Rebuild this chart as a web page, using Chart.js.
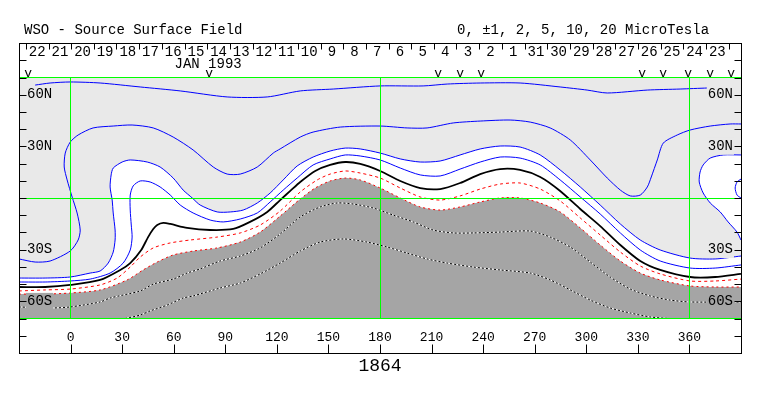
<!DOCTYPE html>
<html><head><meta charset="utf-8">
<script src="https://cdn.jsdelivr.net/npm/chart.js@4.4.1/dist/chart.umd.min.js"></script>
<style>html,body{margin:0;padding:0;background:#fff;overflow:hidden}canvas{display:block}</style>
</head><body>
<canvas id="c" width="763" height="396"></canvas>
<script>
// ---- axis / label data ----
const lonTicks = [0,30,60,90,120,150,180,210,240,270,300,330,360];
const greenLon = [0,180,360];
const latTickVals = [-70,-60,-30,0,30,60,70];
const latTickText = ['','60S','30S','','30N','60N',''];
const latGreen = [-70,0,70];
const latMinorTicks = [-80,-70,-60,-50,-40,-30,-20,-10,0,10,20,30,40,50,60,70,80];
const frameLat = [-90,90];
const dayText = ['22','21','20','19','18','17','16','15','14','13','12','11','10','9','8','7','6','5','4','3','2','1','31','30','29','28','27','26','25','24','23'];
const dayLon = [-19.4,-6.2,7.0,20.1,33.3,46.5,59.7,72.9,86.1,99.3,112.5,125.6,138.8,152.0,165.2,178.4,191.6,204.8,218.0,231.1,244.3,257.5,270.7,283.9,297.1,310.3,323.5,336.6,349.8,363.0,376.2];
const dayBoundLon = [-26.0,-12.8,0.4,13.5,26.7,39.9,53.1,66.3,79.5,92.7,105.9,119.0,132.2,145.4,158.6,171.8,185.0,198.2,211.4,224.5,237.7,250.9,264.1,277.3,290.5,303.7,316.9,330.0,343.2,356.4,369.6,382.8];
const monthText = 'JAN 1993';
const monthLon = 80;
const obsLon = [-24.7,80.6,213.8,226.6,238.9,332.5,344.7,359.3,372.1,384.3];
const titleText = 'WSO - Source Surface Field';
const levelsText = '0, \u00b11, 2, 5, 10, 20 MicroTesla';
const rotationText = '1864';

// ---- contour data (longitude, latitude) ----
const pos10Lon = [-20.6,-11.9,-0.2,17.2,40.5,63.8,91.1,114.4,133.6,152.8,180.1,205.1,219.1,238.3,261.5,284.8,300.5,312.2,335.5,354.6,370.3];
const pos10Lat = [65.6,66.8,67.4,66.8,64.5,62.2,58.7,58.7,62.2,63.3,65.1,65.1,66.2,66.8,66.8,64.5,62.7,61.0,62.7,63.3,63.9];

const pos5Lon = [-30,-20.6,-11.9,-0.2,4.4,5.6,3.8,0.9,-2.0,-3.7,-3.1,-0.2,4.4,13.1,24.8,35.8,48.1,59.7,71.3,83.0,91.1,98.7,108.6,117.9,121.9,133.6,141.1,156.9,180.1,195.8,207.4,222.6,238.3,255.7,267.4,279.0,290.7,302.3,312.2,319.8,325.6,331.4,335.5,337.8,341.3,344.8,352.9,360.4,372.1,383.7,390];
const pos5Lat = [-35.4,-37.2,-36.6,-30.8,-24.4,-18.6,-8.7,0.6,10.5,18.0,26.1,32.5,36.6,40.7,41.8,42.4,40.7,35.4,27.9,18.0,13.9,13.9,18.0,26.1,28.5,35.4,38.3,41.2,41.8,40.7,40.7,43.6,44.7,45.3,44.1,40.7,33.7,22.1,11.6,4.6,1.2,1.7,6.4,12.2,22.1,31.9,36.6,39.5,41.8,43.0,43.0];

const pos2Lon = [-30,-14.8,-0.2,11.4,17.2,21.9,24.8,25.9,25.9,24.8,24.2,23.0,23.6,24.8,30.0,34.7,44.6,52.1,59.7,65.5,70.8,75.4,85.3,92.9,100.4,108.6,116.1,123.7,131.8,141.1,151.0,159.8,168.5,180.1,191.8,203.4,215.0,226.6,238.3,249.9,261.5,273.2,284.8,296.5,308.1,319.8,331.4,343.0,360.4,375.0,390];
const pos2Lat = [-46.5,-46.5,-45.9,-43.6,-42.4,-37.8,-31.4,-24.4,-18.6,-8.7,-1.2,6.4,13.4,17.4,20.9,22.1,20.9,18.0,11.6,4.6,0,-4.1,-8.1,-8.1,-7.0,-2.9,2.9,10.5,18.6,23.8,27.3,29.0,28.5,26.1,22.7,20.9,21.5,25.0,28.5,30.2,29.6,25.0,16.3,6.4,-4.1,-15.1,-24.4,-30.2,-34.9,-35.4,-33.7];

const loop2Lon = [390,379.7,372.1,368.0,366.2,365.7,368.0,372.1,377.9,382.5,387.7,390];
const loop2Lat = [25.0,25.0,23.2,19.2,15.1,9.3,2.9,-2.9,-8.1,-13.9,-19.8,-24.4];

const pos1Lon = [-30,-14.8,-0.2,11.4,23.0,30.6,34.7,35.8,35.3,34.7,34.7,36.4,40.5,46.3,52.1,58.0,63.8,71.3,81.2,88.8,98.7,108.6,116.1,123.7,131.8,141.1,151.0,159.8,168.5,180.1,191.8,203.4,215.0,226.6,238.3,249.9,261.5,273.2,284.8,296.5,308.1,319.8,331.4,343.0,360.4,375.0,390];
const pos1Lat = [-48.8,-48.8,-48.2,-47.1,-43.6,-37.8,-30.2,-22.7,-15.7,-7.0,1.7,7.0,9.9,9.3,6.4,1.7,-4.1,-8.7,-12.8,-13.9,-12.2,-8.7,-2.3,4.6,11.6,19.2,22.7,25.0,24.4,22.1,17.4,13.4,12.8,16.8,20.9,23.8,23.2,19.2,10.5,0.6,-9.3,-20.3,-30.2,-36.6,-40.7,-40.7,-38.9];

const loop1Lon = [390,387.7,386.6,387.7,390];
const loop1Lat = [11.0,9.3,5.8,1.7,0];

const zeroLon = [-30,-14.8,-0.2,17.2,28.9,34.7,41.1,45.1,48.1,50.4,53.9,58.0,67.8,81.2,94.6,104.4,114.4,121.9,127.8,133.6,142.3,151.0,159.8,168.5,180.1,191.8,203.4,215.0,226.6,238.3,249.9,261.5,273.2,284.8,296.5,308.1,319.8,331.4,343.0,360.4,375.0,390];
const zeroLat = [-51.7,-51.7,-50.5,-47.6,-41.8,-37.8,-30.2,-22.7,-18.0,-15.7,-14.5,-15.1,-17.4,-18.6,-18.0,-13.9,-8.1,-1.2,4.1,9.3,15.7,19.2,20.9,19.8,15.7,9.9,5.8,5.2,8.7,13.9,16.8,16.3,12.2,4.1,-6.4,-16.3,-27.3,-36.6,-41.8,-45.9,-45.9,-44.1];

const neg1Lon = [-30,-14.8,-0.2,17.2,27.1,34.7,40.5,48.1,58.0,69.6,85.3,98.7,110.3,121.9,133.6,143.5,151.0,159.8,168.5,180.1,191.8,203.4,215.0,226.6,238.3,249.9,261.5,273.2,284.8,296.5,308.1,319.8,331.4,343.0,360.4,375.0,390];
const neg1Lat = [-54.0,-53.4,-52.9,-50.5,-46.5,-40.1,-34.3,-29.0,-26.1,-24.4,-22.7,-20.3,-15.7,-7.6,3.5,10.5,13.9,15.7,14.5,11.6,5.8,0.6,-1.2,1.2,5.2,8.1,8.7,5.2,-1.7,-11.6,-21.5,-31.4,-39.5,-44.1,-48.2,-48.2,-47.1];

const neg2Lon = [-30,-14.8,-0.2,17.2,32.9,42.2,50.4,59.7,71.3,85.3,98.7,110.3,121.9,133.6,142.3,151.0,159.8,168.5,180.1,191.8,203.4,215.0,226.6,238.3,249.9,261.5,273.2,284.8,296.5,308.1,319.8,331.4,343.0,360.4,375.0,390];
const neg2Lat = [-55.8,-55.8,-55.2,-53.4,-47.6,-41.8,-37.2,-33.1,-30.8,-29.0,-25.6,-19.8,-10.5,-0.6,5.8,9.9,11.6,10.5,5.8,0,-5.2,-7.0,-5.2,-2.3,0,0,-2.9,-8.1,-17.4,-27.3,-36.6,-43.6,-47.6,-51.1,-51.7,-51.7];

const neg5Lon = [-30,-11.9,-0.2,17.2,23.0,40.5,48.1,59.7,67.8,75.4,87.0,98.7,110.3,121.9,133.6,145.2,155.1,164.4,176.0,187.6,199.3,210.9,222.6,234.2,249.9,267.4,279.0,290.7,302.3,313.9,325.6,337.2,348.8,360.4,390];
const neg5Lat = [-63.3,-63.9,-63.3,-60.4,-58.1,-54.0,-50.0,-47.1,-43.6,-41.2,-36.6,-33.7,-29.0,-20.9,-11.0,-5.2,-2.9,-3.5,-5.8,-9.9,-13.9,-18.6,-20.3,-20.3,-19.8,-19.2,-22.7,-28.5,-37.2,-45.9,-52.9,-56.9,-59.3,-60.4,-60.4];

const neg10Lon = [31.8,40.5,46.3,56.2,65.5,71.3,87.0,98.7,110.3,121.9,133.6,145.2,158.6,172.5,184.2,195.8,207.4,219.1,234.2,249.9,267.4,279.0,290.7,302.3,313.9,325.6,337.2,347.6];
const neg10Lat = [-70,-68.0,-65.6,-62.2,-58.1,-56.9,-52.3,-49.4,-44.1,-37.8,-30.8,-25.6,-23.8,-25.6,-28.5,-32.0,-35.4,-37.8,-40.1,-41.8,-43.6,-47.6,-53.4,-59.3,-63.9,-66.8,-69.1,-70];

// ---- styles ----
const BLUE = '#0000ff', RED = '#ff0000', GREEN = '#00ff00', LIGHT = '#e9e9e9', DARK = '#a5a5a5', WHITE = '#ffffff', BLACK = '#000000';
const FONT = '"Liberation Mono", "DejaVu Sans Mono", monospace';
Chart.defaults.font.family = FONT;
Chart.defaults.color = BLACK;

const pts = (lo, la) => lo.map((v, i) => ({x: v, y: la[i]}));
function contour(label, lo, la, color, extra) {
  return Object.assign({label, data: pts(lo, la), borderColor: color, borderWidth: 1,
    pointRadius: 0, pointHoverRadius: 0, showLine: true, fill: false, tension: 0.25, order: 5}, extra || {});
}

const datasets = [
  contour('+2', pos2Lon, pos2Lat, BLUE, {fill: 'start', backgroundColor: WHITE, order: 10}),
  contour('+2 loop', loop2Lon, loop2Lat, BLUE, {fill: 'shape', backgroundColor: WHITE, order: 9}),
  contour('-2', neg2Lon, neg2Lat, RED, {fill: 'start', backgroundColor: DARK, borderDash: [2,3], order: 8}),
  contour('-5 base', neg5Lon, neg5Lat, WHITE, {order: 7}),
  contour('-10 base', neg10Lon, neg10Lat, WHITE, {order: 7}),
  contour('-5', neg5Lon, neg5Lat, BLACK, {borderDash: [2,2], order: 6}),
  contour('-10', neg10Lon, neg10Lat, BLACK, {borderDash: [2,2], order: 6}),
  contour('+10', pos10Lon, pos10Lat, BLUE),
  contour('+5', pos5Lon, pos5Lat, BLUE),
  contour('+1', pos1Lon, pos1Lat, BLUE),
  contour('+1 loop', loop1Lon, loop1Lat, BLUE),
  contour('0', zeroLon, zeroLat, BLACK, {borderWidth: 1.8}),
  contour('-1', neg1Lon, neg1Lat, RED, {borderDash: [3,3]})
];

const framePlugin = {
  id: 'wsoFrame',
  beforeDraw(chart) {
    const {ctx, chartArea: a} = chart;
    ctx.save();
    ctx.fillStyle = WHITE;
    ctx.fillRect(0, 0, chart.width, chart.height);
    ctx.fillStyle = LIGHT;
    ctx.fillRect(a.left, a.top, a.right - a.left, a.bottom - a.top);
    ctx.restore();
  },
  afterDraw(chart) {
    const {ctx, chartArea: a, scales: {x, y}} = chart;
    const top = Math.round(y.getPixelForValue(frameLat[1])) + 0.5;
    const bot = Math.round(y.getPixelForValue(frameLat[0])) + 0.5;
    const L = Math.round(a.left) + 0.5, R = Math.round(a.right) + 0.5;
    ctx.save();
    ctx.strokeStyle = BLACK; ctx.lineWidth = 1;
    ctx.strokeRect(L, top, R - L, bot - top);
    ctx.beginPath();
    latMinorTicks.forEach(v => {
      const p = Math.round(y.getPixelForValue(v)) + 0.5;
      ctx.moveTo(L, p); ctx.lineTo(L + 7, p);
      ctx.moveTo(R, p); ctx.lineTo(R - 7, p);
    });
    lonTicks.forEach(v => {
      const p = Math.round(x.getPixelForValue(v)) + 0.5;
      ctx.moveTo(p, bot); ctx.lineTo(p, bot - 9);
    });
    dayBoundLon.forEach(v => {
      const p = Math.round(x.getPixelForValue(v)) + 0.5;
      ctx.moveTo(p, top); ctx.lineTo(p, top + 6);
    });
    ctx.stroke();

    ctx.fillStyle = BLACK;
    ctx.textBaseline = 'alphabetic';
    ctx.font = '14px ' + FONT;
    ctx.textAlign = 'left';
    ctx.fillText(titleText, 24, top - 10);
    ctx.fillText(levelsText, 457, top - 10);
    ctx.textAlign = 'center';
    dayText.forEach((t, i) => ctx.fillText(t, x.getPixelForValue(dayLon[i]), top + 12));
    ctx.fillText(monthText, x.getPixelForValue(monthLon), top + 24);
    ctx.font = '13px ' + FONT;
    obsLon.forEach(v => ctx.fillText('v', x.getPixelForValue(v), top + 33));
    ctx.restore();
  }
};

const backdrop = c => {
  const v = c.tick ? c.tick.value : null;
  const i = latTickVals.indexOf(v);
  if (i < 0 || latTickText[i] === '') return 'rgba(0,0,0,0)';
  return v === -60 ? DARK : LIGHT;
};

const yAxis = (pos, withGrid, pad) => ({
  type: 'linear', min: -70, max: 70, position: pos,
  afterBuildTicks: s => { s.ticks = latTickVals.map(v => ({value: v})); },
  afterFit: s => { s.width = 0; },
  grid: { display: withGrid, z: 1, drawTicks: false,
    color: c => (c.tick && latGreen.includes(c.tick.value)) ? GREEN : 'rgba(0,0,0,0)' },
  border: { display: false },
  ticks: { z: 2, mirror: true, padding: pad, autoSkip: false, color: BLACK,
    font: { size: 14, family: FONT },
    callback: v => latTickText[latTickVals.indexOf(v)],
    showLabelBackdrop: true, backdropColor: backdrop, backdropPadding: {x: 1, y: 0} }
});

new Chart(document.getElementById('c').getContext('2d'), {
  type: 'scatter',
  data: { datasets },
  options: {
    responsive: false, animation: false, events: [], devicePixelRatio: 1,
    layout: { padding: { left: 19, right: 22, top: 77.5, bottom: 19.2 } },
    plugins: { legend: { display: false }, tooltip: { enabled: false }, filler: { drawTime: 'beforeDatasetsDraw' } },
    scales: {
      x: {
        type: 'linear', min: -30, max: 390, position: 'bottom',
        afterBuildTicks: s => { s.ticks = lonTicks.map(v => ({value: v})); },
        afterFit: s => { s.height = 58.3; },
        grid: { z: 1, drawTicks: false,
          color: c => (c.tick && greenLon.includes(c.tick.value)) ? GREEN : 'rgba(0,0,0,0)' },
        border: { display: false },
        ticks: { autoSkip: false, maxRotation: 0, padding: 11, color: BLACK,
          font: { size: 13, family: FONT }, callback: v => String(v) },
        title: { display: true, text: rotationText, color: BLACK, padding: 0, font: { size: 18, family: FONT } }
      },
      y: yAxis('left', true, 8),
      y2: yAxis('right', false, -8)
    }
  },
  plugins: [framePlugin]
});
</script>
</body></html>
